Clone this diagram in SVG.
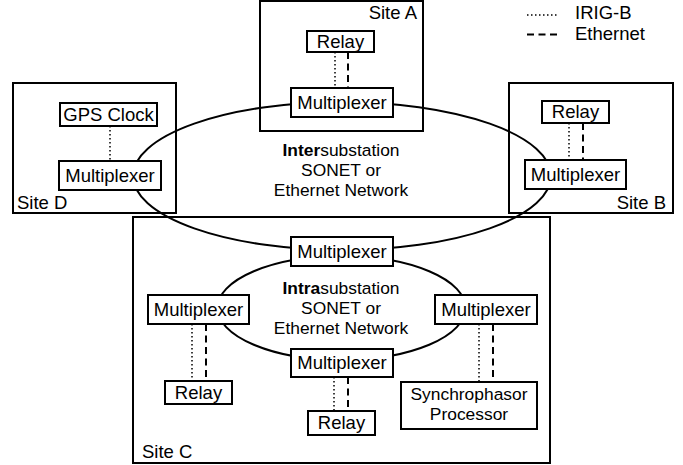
<svg xmlns="http://www.w3.org/2000/svg" width="683" height="465" viewBox="0 0 683 465">
<style>
text{font-family:"Liberation Sans",Arial,sans-serif;font-size:18.5px;fill:#000}
text.m{font-size:17.4px}
.c{text-anchor:middle}
.e{text-anchor:end}
.site{fill:none;stroke:#000;stroke-width:2}
.box{fill:#fff;stroke:#000;stroke-width:2}
.ring{fill:none;stroke:#000;stroke-width:2}
.dot{stroke:#000;stroke-width:1.5;stroke-dasharray:1.5 2.5;fill:none}
.dash{stroke:#000;stroke-width:2;stroke-dasharray:7 4.5;fill:none}
</style>
<rect width="683" height="465" fill="#fff"/>
<g id="siteA"><rect class="site" x="260" y="1" width="163" height="130"/><text class="e" x="417" y="19">Site A</text></g>
<g id="siteD"><rect class="site" x="13" y="83" width="163" height="130"/><text x="17" y="209">Site D</text></g>
<g id="siteB"><rect class="site" x="509" y="83" width="164" height="130"/><text class="e" x="666" y="209">Site B</text></g>
<g id="siteC"><rect class="site" x="133" y="217" width="417" height="246"/><text x="142" y="458">Site C</text></g>
<g id="connectors">
<ellipse class="ring" cx="342" cy="176" rx="209" ry="74"/>
<ellipse class="ring" cx="341.5" cy="308" rx="124" ry="52"/>
<line class="dot" x1="335" y1="52" x2="335" y2="88"/>
<line class="dash" x1="348" y1="52" x2="348" y2="88"/>
<line class="dot" x1="110" y1="126" x2="110" y2="161"/>
<line class="dot" x1="569" y1="123" x2="569" y2="160"/>
<line class="dash" x1="583" y1="123" x2="583" y2="160"/>
<line class="dot" x1="192" y1="324" x2="192" y2="381"/>
<line class="dash" x1="206" y1="324" x2="206" y2="381"/>
<line class="dot" x1="334" y1="377" x2="334" y2="411"/>
<line class="dash" x1="348" y1="377" x2="348" y2="411"/>
<line class="dot" x1="479" y1="324" x2="479" y2="382"/>
<line class="dash" x1="493" y1="324" x2="493" y2="382"/>
</g>
<g id="legend">
<line class="dot" x1="527" y1="15" x2="558" y2="15"/>
<line class="dash" x1="527" y1="34.5" x2="558" y2="34.5"/>
<text x="575" y="19">IRIG-B</text>
<text x="575" y="40">Ethernet</text>
</g>
<g id="interLabel"><text class="c m" x="341" y="155.5"><tspan font-weight="bold">Inter</tspan>substation<tspan x="341" dy="20">SONET or</tspan><tspan x="341" dy="20">Ethernet Network</tspan></text></g>
<g id="intraLabel"><text class="c m" x="341" y="293.5"><tspan font-weight="bold">Intra</tspan>substation<tspan x="341" dy="20">SONET or</tspan><tspan x="341" dy="20">Ethernet Network</tspan></text></g>
<g id="relayA"><rect class="box" x="307" y="31" width="67" height="21"/><text class="c" x="340.5" y="47.5">Relay</text></g>
<g id="muxA"><rect class="box" x="291" y="88" width="102" height="29"/><text class="c" x="342" y="108.5">Multiplexer</text></g>
<g id="gpsD"><rect class="box" x="60" y="103" width="97" height="23"/><text class="c" x="108.5" y="120.5">GPS Clock</text></g>
<g id="muxD"><rect class="box" x="59" y="161" width="102" height="29"/><text class="c" x="110" y="181.5">Multiplexer</text></g>
<g id="relayB"><rect class="box" x="542" y="101" width="67" height="22"/><text class="c" x="575.5" y="118">Relay</text></g>
<g id="muxB"><rect class="box" x="525" y="160" width="101" height="29"/><text class="c" x="575.5" y="180.5">Multiplexer</text></g>
<g id="muxCtop"><rect class="box" x="291" y="237" width="102" height="29"/><text class="c" x="342" y="257.5">Multiplexer</text></g>
<g id="muxCleft"><rect class="box" x="148" y="295" width="101" height="29"/><text class="c" x="198.5" y="315.5">Multiplexer</text></g>
<g id="muxCright"><rect class="box" x="435" y="295" width="102" height="29"/><text class="c" x="486" y="315.5">Multiplexer</text></g>
<g id="muxCbottom"><rect class="box" x="291" y="349" width="102" height="28"/><text class="c" x="342" y="369">Multiplexer</text></g>
<g id="relayCleft"><rect class="box" x="165" y="381" width="67" height="23"/><text class="c" x="198.5" y="398.5">Relay</text></g>
<g id="relayCbottom"><rect class="box" x="308" y="411" width="67" height="24"/><text class="c" x="341.5" y="429">Relay</text></g>
<g id="synchro"><rect class="box" x="401" y="382" width="136" height="47"/><text class="c m" x="469" y="399.5">Synchrophasor<tspan x="469" dy="20">Processor</tspan></text></g>
</svg>
